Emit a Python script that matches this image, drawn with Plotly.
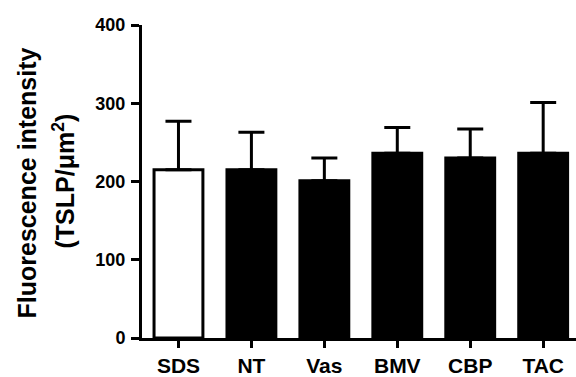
import plotly.graph_objects as go

categories = ["SDS", "NT", "Vas", "BMV", "CBP", "TAC"]
means = [215, 215, 201, 236, 230, 236]
errors = [62, 48, 29, 33, 37, 65]
y_ticks = [0, 100, 200, 300, 400]

fill_colors = ["white", "black", "black", "black", "black", "black"]

L, T, B = 142, 25, 36
W, H = 576, 377
pw = W - L
ph = H - T - B

fig = go.Figure()
fig.add_trace(go.Bar(
    x=categories,
    y=means,
    width=0.67,
    marker=dict(color=fill_colors, line=dict(color="black", width=3)),
    error_y=dict(type="data", symmetric=False, array=errors,
                 arrayminus=[0] * len(errors), color="black",
                 thickness=3, width=13),
))

font_family = "Liberation Sans, Arial, sans-serif"

fig.update_layout(
    width=W, height=H,
    margin=dict(l=L, r=0, t=T, b=B),
    plot_bgcolor="white", paper_bgcolor="white",
    showlegend=False,
    xaxis=dict(
        range=[-0.5, 5.45],
        showline=True, linecolor="black", linewidth=3,
        ticks="outside", ticklen=7, tickwidth=2.5, tickcolor="black",
        tickfont=dict(family=font_family, size=21, color="black", weight="bold"),
        showgrid=False, zeroline=False,
    ),
    yaxis=dict(
        range=[0, 400],
        tickvals=y_ticks,
        showline=True, linecolor="black", linewidth=3,
        ticks="outside", ticklen=8, tickwidth=2.5, tickcolor="black",
        tickfont=dict(family=font_family, size=18, color="black", weight="bold"),
        ticklabelstandoff=2,
        showgrid=False, zeroline=False,
    ),
)

title_font = dict(family=font_family, size=25, color="black", weight="bold")
fig.add_annotation(
    text="Fluorescence intensity",
    xref="paper", yref="paper", x=0, y=(341 - 185) / ph,
    xanchor="center", yanchor="middle",
    xshift=27 - L, textangle=-90, showarrow=False, font=title_font,
)
fig.add_annotation(
    text="(TSLP/\u03bcm<sup>2</sup>)",
    xref="paper", yref="paper", x=0, y=(341 - 183) / ph,
    xanchor="center", yanchor="middle",
    xshift=63 - L, textangle=-90, showarrow=False, font=title_font,
)

fig.write_html("out.html")
